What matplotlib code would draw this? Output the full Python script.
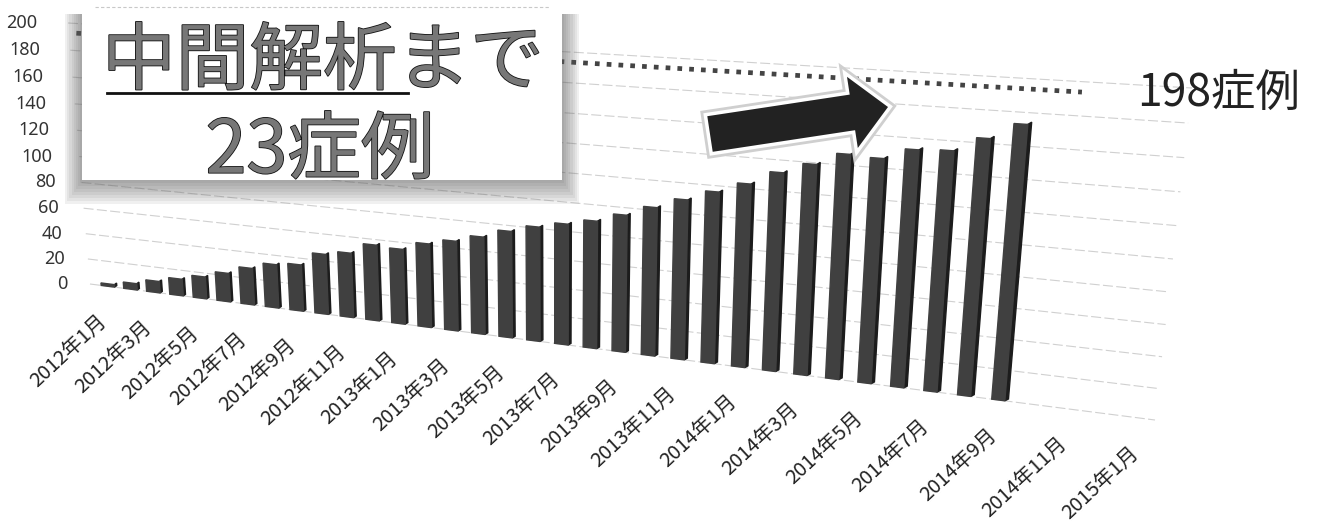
import numpy as np
import matplotlib
matplotlib.use('Agg')
import matplotlib.pyplot as plt
from matplotlib.patches import Rectangle, FancyArrow
import matplotlib.patheffects as pe

plt.rcParams['font.family'] = ['Noto Sans CJK JP', 'DejaVu Sans']

# monthly cumulative cases, 2012/1 .. 2014/9
cases = [2, 5, 9, 13, 17, 22, 28, 33, 35, 45, 48, 56, 55, 61, 65, 70, 76, 81, 85, 89, 95,
         102, 109, 116, 123, 132, 139, 147, 146, 153, 154, 163, 173]
target = [198] * 35
yticks = list(range(0, 201, 20))
xlabels = ['2012年1月', '2012年3月', '2012年5月', '2012年7月', '2012年9月', '2012年11月',
           '2013年1月', '2013年3月', '2013年5月', '2013年7月', '2013年9月', '2013年11月',
           '2014年1月', '2014年3月', '2014年5月', '2014年7月', '2014年9月', '2014年11月',
           '2015年1月']

I0, I1 = -0.8, 36.4


def homography(src, dst):
    A = []
    for (x, y), (u, v) in zip(src, dst):
        A.append([x, y, 1, 0, 0, 0, -u*x, -u*y, -u])
        A.append([0, 0, 0, x, y, 1, -v*x, -v*y, -v])
    _, _, vt = np.linalg.svd(np.array(A, dtype=float))
    return vt[-1].reshape(3, 3)


# the chart plane is tilted in the original, so month/value go through a perspective map
H = homography([(I0, 0), (I1, 0), (I0, 200), (I1, 200)],
               [(90, 284), (1155, 420), (68, 23), (1192, 88)])


def project(i, v):
    i, v = np.asarray(i, float), np.asarray(v, float)
    w = H[2, 0]*i + H[2, 1]*v + H[2, 2]
    return (H[0, 0]*i + H[0, 1]*v + H[0, 2])/w, (H[1, 0]*i + H[1, 1]*v + H[1, 2])/w


fig = plt.figure(figsize=(13.2, 5.26), dpi=100)
ax = fig.add_axes([0, 0, 1, 1])
ax.set_xlim(0, 1320)
ax.set_ylim(526, 0)
ax.axis('off')

# grid and y labels
for t in yticks:
    x, y = project([I0, I1], [t, t])
    ax.plot(x, y, color='#d0d0d0', lw=0.8, ls=(0, (9, 3)), zorder=1)
    ax.text(x[0]-22-9*t/200, y[0], str(t), ha='right', va='center', fontsize=13, color='#333333',
            family=['Noto Sans', 'DejaVu Sans'])

# x labels every two months
for n, lab in enumerate(xlabels):
    x, y = project(n*2, 0)
    ax.text(x-11, y+25, lab, rotation=43, rotation_mode='anchor', ha='right', va='top',
            fontsize=14.5, color='#222222')

# bars: front face plus a darker side, narrower to the right as in the original
for i, c in enumerate(cases):
    bw = 0.3 - 0.11*i/32
    xs, ys = project([i+bw, i+bw+0.1, i+bw+0.1, i+bw], [0, 1.5, c+1.5, c])
    ax.fill(xs, ys, color='#1c1c1c', zorder=3)
    xs, ys = project([i-bw, i+bw, i+bw, i-bw], [0, 0, c, c])
    ax.fill(xs, ys, color='#404040', zorder=4)

# target line
x, y = project(np.arange(len(target))-0.45, target)
ax.plot(x, y+7, color='#444444', lw=3.4, ls=(0, (1, 1.5)), zorder=5)
ax.text(1137, 93, '198症例', fontsize=32, va='center', ha='left', color='#222222', zorder=8)

# call-out box
ax.plot([95, 550], [7, 7], color='#c8c8c8', lw=0.8, ls=(0, (3, 2)), zorder=1)
for d in range(0, 25, 3):
    ax.add_patch(Rectangle((82-d*0.7, 14), 480+d*1.4, 166+d, fc='#606060', alpha=0.09, ec='none', zorder=6))
ax.add_patch(Rectangle((82, 14), 480, 166, fc='white', ec='none', zorder=7))
outline = [pe.withStroke(linewidth=1.2, foreground='#111111')]
ax.text(323, 63, '中間解析まで', fontsize=53, ha='center', va='center', color='#777777',
        path_effects=outline, zorder=8)
ax.plot([107, 408], [93, 93], color='#111111', lw=2, zorder=8)
ax.text(320, 152, '23症例', fontsize=53, ha='center', va='center', color='#777777',
        path_effects=outline, zorder=8)

# arrow
arrow = FancyArrow(710, 134, 178, -27, width=36, head_width=72, head_length=36,
                   length_includes_head=True, fc='#222222', ec='none', zorder=7,
                   path_effects=[pe.Stroke(linewidth=9, foreground='#cfcfcf'),
                                 pe.Stroke(linewidth=5, foreground='white'), pe.Normal()])
ax.add_patch(arrow)

fig.savefig('out.png', dpi=100)
